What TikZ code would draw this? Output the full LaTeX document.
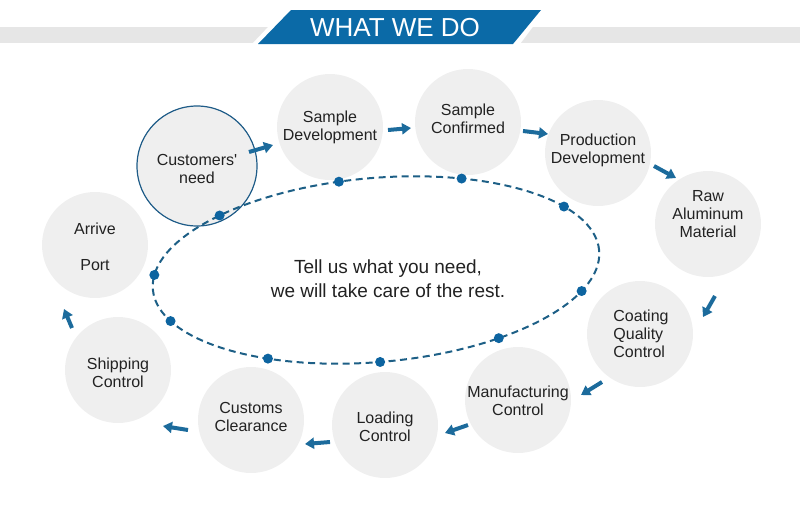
\documentclass[tikz,border=0pt]{standalone}
\usepackage{fontspec}
\setmainfont{Liberation Sans}
\usetikzlibrary{arrows.meta,calc}
\definecolor{hdrblue}{HTML}{0B6AA7}
\definecolor{bandgray}{HTML}{E6E6E6}
\definecolor{circfill}{HTML}{EFEFEF}
\definecolor{arrblue}{HTML}{1C6B9C}
\definecolor{ringblue}{HTML}{1D5F86}
\definecolor{dotblue}{HTML}{0D64A0}
\definecolor{outline}{HTML}{1F5C88}
\definecolor{txt}{HTML}{222222}
\begin{document}
\begin{tikzpicture}[x=1pt,y=-1pt,
  stage/.style={circle,fill=circfill,minimum size=106pt,inner sep=0pt},
  lbl/.style={align=center,font=\fontsize{16}{18}\selectfont,text=txt},
  flow/.style={draw=arrblue,line width=4pt,-{Triangle[length=9pt,width=11pt]}},
  ring/.style={draw=ringblue,line width=2pt,dash pattern=on 7pt off 4.5pt},
  dot/.style={circle,fill=dotblue,minimum size=10pt,inner sep=0pt}]
\useasboundingbox (0,0) rectangle (800,520);
% header
\fill[bandgray] (0,27) rectangle (800,43);
\fill[white] (252,44) -- (286,8) -- (547,8) -- (520,44) -- cycle;
\fill[hdrblue] (258,44) -- (291,10) -- (541,10) -- (513,44) -- cycle;
\node[font=\fontsize{26}{30}\selectfont,text=white] (title) at (395,28) {WHAT WE DO};
% stages
\node[stage,minimum size=120pt,draw=outline,line width=1.2pt] (cn) at (197,166) {};
\node[stage] (sd) at (330,127) {};
\node[stage] (sc) at (468,122) {};
\node[stage] (pd) at (598,153) {};
\node[stage] (raw) at (708,224) {};
\node[stage] (coat) at (640,334) {};
\node[stage] (manu) at (518,400) {};
\node[stage] (load) at (385,425) {};
\node[stage] (cust) at (251,420) {};
\node[stage] (ship) at (118,370) {};
\node[stage] (arr) at (95,245) {};
% dashed ring
\begin{scope}[shift={(376,270)},rotate=5,yscale=-1]
  \draw[ring] (0,0) ellipse [x radius=224,y radius=92];
  \foreach \a/\n in {132.4/1,97.5/2,65.4/3,30.6/4,-25/5,-58.7/6,-91/7,239/8,201/9,171/10}
    \node[dot] (d\n) at (\a:224 and 92) {};
\end{scope}
% labels
\node[lbl] (cn-t) at (197,168.5) {Customers\textquotesingle\\need};
\node[lbl] (sd-t) at (330,127) {Sample\\Development};
\node[lbl] (sc-t) at (468,119) {Sample\\Confirmed};
\node[lbl] (pd-t) at (598,150.5) {Production\\Development};
\node[lbl] (raw-t) at (708,214) {Raw\\Aluminum\\Material};
\node[lbl,align=left] (coat-t) at (641,334) {Coating\\Quality\\Control};
\node[lbl] (manu-t) at (518,401) {Manufacturing\\Control};
\node[lbl] (load-t) at (385,427) {Loading\\Control};
\node[lbl] (cust-t) at (251,417) {Customs\\Clearance};
\node[lbl] (ship-t) at (118,373) {Shipping\\Control};
\node[lbl] (arr-t) at (95,247) {Arrive\\[18pt]Port};
\node[align=center,font=\fontsize{19}{24}\selectfont,text=txt] (msg) at (388,279)
  {Tell us what you need,\\we will take care of the rest.};
% flow arrows
\draw[flow] ([shift={(52,-14)}]cn.center) -- ([shift={(-57,18)}]sd.center);
\draw[flow] ([shift={(58,3)}]sd.center) -- ([shift={(-57,6)}]sc.center);
\draw[flow] ([shift={(55,9)}]sc.center) -- ([shift={(-50,-19)}]pd.center);
\draw[flow] ([shift={(56,13)}]pd.center) -- ([shift={(-32,-46)}]raw.center);
\draw[flow] ([shift={(7,72)}]raw.center) -- ([shift={(63,-17)}]coat.center);
\draw[flow] ([shift={(-38,48)}]coat.center) -- ([shift={(63,-5)}]manu.center);
\draw[flow] ([shift={(-50,25)}]manu.center) -- ([shift={(60,8)}]load.center);
\draw[flow] ([shift={(-55,17)}]load.center) -- ([shift={(54,24)}]cust.center);
\draw[flow] ([shift={(-63,10)}]cust.center) -- ([shift={(45,56)}]ship.center);
\draw[flow] ([shift={(-46,-42)}]ship.center) -- ([shift={(-31,64)}]arr.center);
\end{tikzpicture}
\end{document}
